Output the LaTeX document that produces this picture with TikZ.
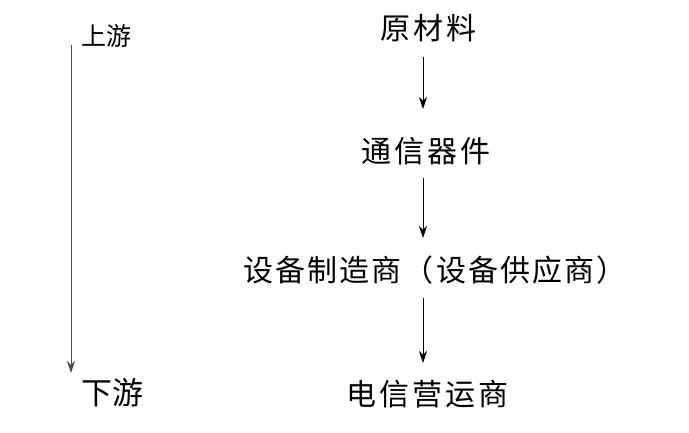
\documentclass[tikz,border=0pt]{standalone}
\usepackage{fontspec}
\newfontfamily\cjk[LetterSpace=10]{Noto Sans CJK SC}
\newfontfamily\cjknarrow[LetterSpace=7]{Noto Sans CJK SC}
\newfontfamily\cjkside{Noto Sans CJK SC}
\usetikzlibrary{arrows.meta}
\begin{document}
\begin{tikzpicture}[x=1pt,y=1pt,
  stage/.style={inner sep=0pt, font=\cjk\fontsize{30}{30}\selectfont},
  side/.style={inner sep=0pt, anchor=west},
  flow/.style={draw=black, line width=0.8pt, -{Stealth[length=12pt,width=8pt]}},
  axis/.style={draw=black!70, line width=1pt, -{Stealth[length=12pt,width=8pt]}}]
\useasboundingbox (0,0) rectangle (689,432);
% stages
\node[stage] (s1) at (428,404) {原材料};
\node[stage] (s2) at (426,281) {通信器件};
\node[stage, font=\cjknarrow\fontsize{30}{30}\selectfont] (s3) at (435,162) {设备制造商（设备供应商）};
\node[stage] (s4) at (427,38) {电信营运商};
% side labels
\node[side, font=\cjkside\fontsize{25}{25}\selectfont] (up) at (81,396) {上游};
\node[side, font=\cjkside\fontsize{31}{31}\selectfont] (down) at (81,39) {下游};
\coordinate (axtop) at (71,387);
\coordinate (axbot) at (71,59);
\draw[axis] (axtop) -- (axbot);
% flow arrows
\coordinate (ax) at (423,0);
\draw[flow] ([yshift=-29pt]s1.center -| ax) -- ([yshift=42pt]s2.center -| ax);
\draw[flow] ([yshift=-27pt]s2.center -| ax) -- ([yshift=32pt]s3.center -| ax);
\draw[flow] ([yshift=-28pt]s3.center -| ax) -- ([yshift=31pt]s4.center -| ax);
\end{tikzpicture}
\end{document}
